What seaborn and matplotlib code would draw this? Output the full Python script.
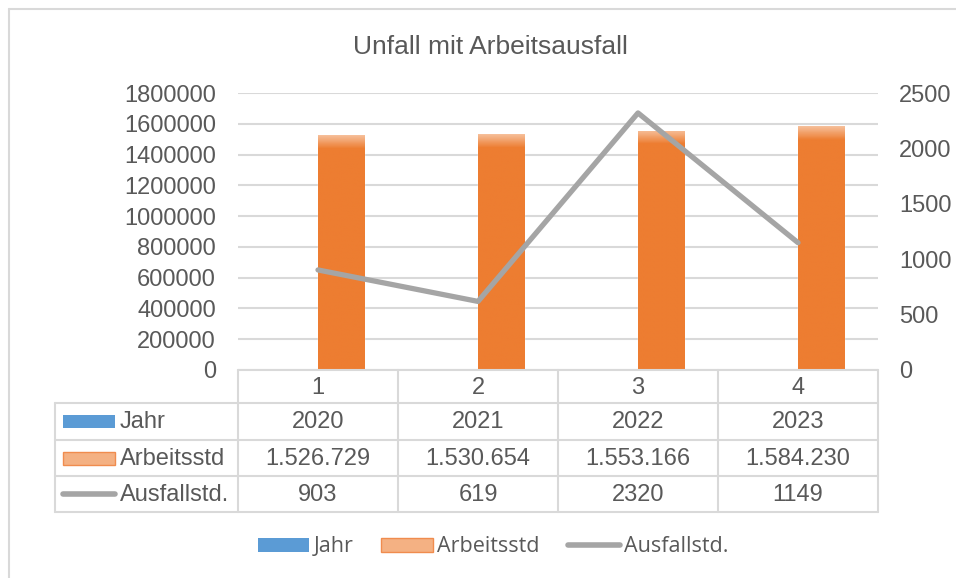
import numpy as np
import pandas as pd
import matplotlib
matplotlib.use("Agg")
import matplotlib.pyplot as plt
import seaborn as sns
from matplotlib.lines import Line2D
from matplotlib.patches import Patch, Rectangle
from matplotlib.ticker import FuncFormatter
from matplotlib.transforms import blended_transform_factory
from matplotlib.colors import to_rgb

# data
cats = ["1", "2", "3", "4"]
jahr = [2020, 2021, 2022, 2023]
arbeitsstd = [1526729, 1530654, 1553166, 1584230]
ausfallstd = [903, 619, 2320, 1149]

blue = "#5B9BD5"
orange = "#ED7D31"
gray = "#A5A5A5"
txt = "#595959"
grid = "#D9D9D9"

sns.set_theme(style="white")
plt.rcParams["font.family"] = ["Liberation Sans", "DejaVu Sans"]

W, H = 956, 578
fig = plt.figure(figsize=(W / 100, H / 100), dpi=100)
fx = lambda p: p / W
fy = lambda p: 1 - p / H

# both series on primary axis, as in the excel clustered column chart
df = pd.DataFrame({
    "cat": cats * 2,
    "wert": jahr + arbeitsstd,
    "serie": ["Jahr"] * len(cats) + ["Arbeitsstd"] * len(cats),
})

ax = fig.add_axes([fx(238), fy(370), fx(878) - fx(238), fy(93) - fy(370)])
sns.barplot(data=df, x="cat", y="wert", hue="serie", palette=[blue, orange],
            saturation=1, width=0.58, gap=0, legend=False, ax=ax)

# light top band like the excel gradient
base = np.array(to_rgb(orange))
light = np.array(to_rgb("#F6BE98"))
n = 200
t = np.clip(np.arange(n) / (n * 0.055), 0, 1)[:, None]
grad = (light * (1 - t) + base * t)[:, None, :]
for p in ax.containers[1]:
    x0, w, h = p.get_x(), p.get_width(), p.get_height()
    im = ax.imshow(grad, extent=[x0, x0 + w, 0, h], aspect="auto", zorder=p.get_zorder() + 0.1)
    im.set_clip_path(p)

ax.set_xlim(-0.5, len(cats) - 0.5)
ax.set_ylim(0, 1800000)
ax.set_yticks(range(0, 1800001, 200000))
ax.yaxis.set_major_formatter(FuncFormatter(lambda v, _: f"{int(v)}"))
ax.set_xticks([])
ax.set_xlabel("")
ax.set_ylabel("")
ax.grid(axis="y", color=grid, lw=1.5)
ax.set_axisbelow(True)
ax.tick_params(axis="y", length=0, pad=16, labelsize=17, labelcolor=txt)
for s in ax.spines.values():
    s.set_visible(False)

ax2 = ax.twinx()
sns.lineplot(x=np.arange(len(cats)), y=ausfallstd, ax=ax2, color=gray, lw=3.8)
ax2.set_ylim(0, 2500)
ax2.set_yticks(range(0, 2501, 500))
ax2.set_ylabel("")
ax2.tick_params(axis="y", length=0, pad=15, labelsize=17, labelcolor=txt)
for s in ax2.spines.values():
    s.set_visible(False)
ax.set_xlim(-0.5, len(cats) - 0.5)

fig.text(fx(490), fy(47), "Unfall mit Arbeitsausfall", ha="center", va="center",
         fontsize=19, color=txt)

# data table
tr = blended_transform_factory(ax.transData, fig.transFigure)
tf = fig.transFigure
lk = dict(color=grid, lw=1.5)
rows_y = [370, 403, 440, 476, 512]
for i in range(len(cats) + 1):
    fig.add_artist(Line2D([i - 0.5, i - 0.5], [fy(370), fy(512)], transform=tr, **lk))
fig.add_artist(Line2D([-0.5, len(cats) - 0.5], [fy(370), fy(370)], transform=tr, **lk))
for yy in rows_y[1:]:
    fig.add_artist(Line2D([fx(55), fx(878)], [fy(yy), fy(yy)], transform=tf, **lk))
fig.add_artist(Line2D([fx(55), fx(55)], [fy(403), fy(512)], transform=tf, **lk))

fmt_de = lambda v: f"{v:,}".replace(",", ".")
row_vals = [cats, [str(v) for v in jahr], [fmt_de(v) for v in arbeitsstd],
            [str(v) for v in ausfallstd]]
for r, vals in enumerate(row_vals):
    yc = fy((rows_y[r] + rows_y[r + 1]) / 2 + 1)
    for i, v in enumerate(vals):
        fig.text(i, yc, v, transform=tr, ha="center", va="center", fontsize=17, color=txt)

labels = ["Jahr", "Arbeitsstd", "Ausfallstd."]
for r, lab in enumerate(labels):
    yc = (rows_y[r + 1] + rows_y[r + 2]) / 2
    fig.text(fx(120), fy(yc + 1), lab, ha="left", va="center", fontsize=17, color=txt)
fig.add_artist(Rectangle((fx(63), fy(428)), fx(52), 13 / H, transform=tf,
                         facecolor=blue, edgecolor="none"))
fig.add_artist(Rectangle((fx(63), fy(465)), fx(52), 13 / H, transform=tf,
                         facecolor="#F4B183", edgecolor="#F08C4E", lw=1))
fig.add_artist(Line2D([fx(63), fx(115)], [fy(494), fy(494)], transform=tf,
                      color=gray, lw=4, solid_capstyle="round"))

# legend
handles = [Patch(facecolor=blue, edgecolor="none"),
           Patch(facecolor="#F4B183", edgecolor="#F08C4E", lw=1),
           Line2D([], [], color=gray, lw=4, solid_capstyle="round")]
fig.legend(handles, labels, loc="center", bbox_to_anchor=(fx(493), fy(547)), ncol=3,
           frameon=False, handlelength=2.4, handleheight=0.62, handletextpad=0.2,
           columnspacing=1.3, prop={"family": "Open Sans", "size": 15.5}, labelcolor=txt)

# chart border
fig.add_artist(Line2D([fx(9), 1], [fy(9), fy(9)], transform=tf, color=grid, lw=1.5))
fig.add_artist(Line2D([fx(9), fx(9)], [fy(9), 0], transform=tf, color=grid, lw=1.5))

fig.savefig("out.png", dpi=100, facecolor="white")
